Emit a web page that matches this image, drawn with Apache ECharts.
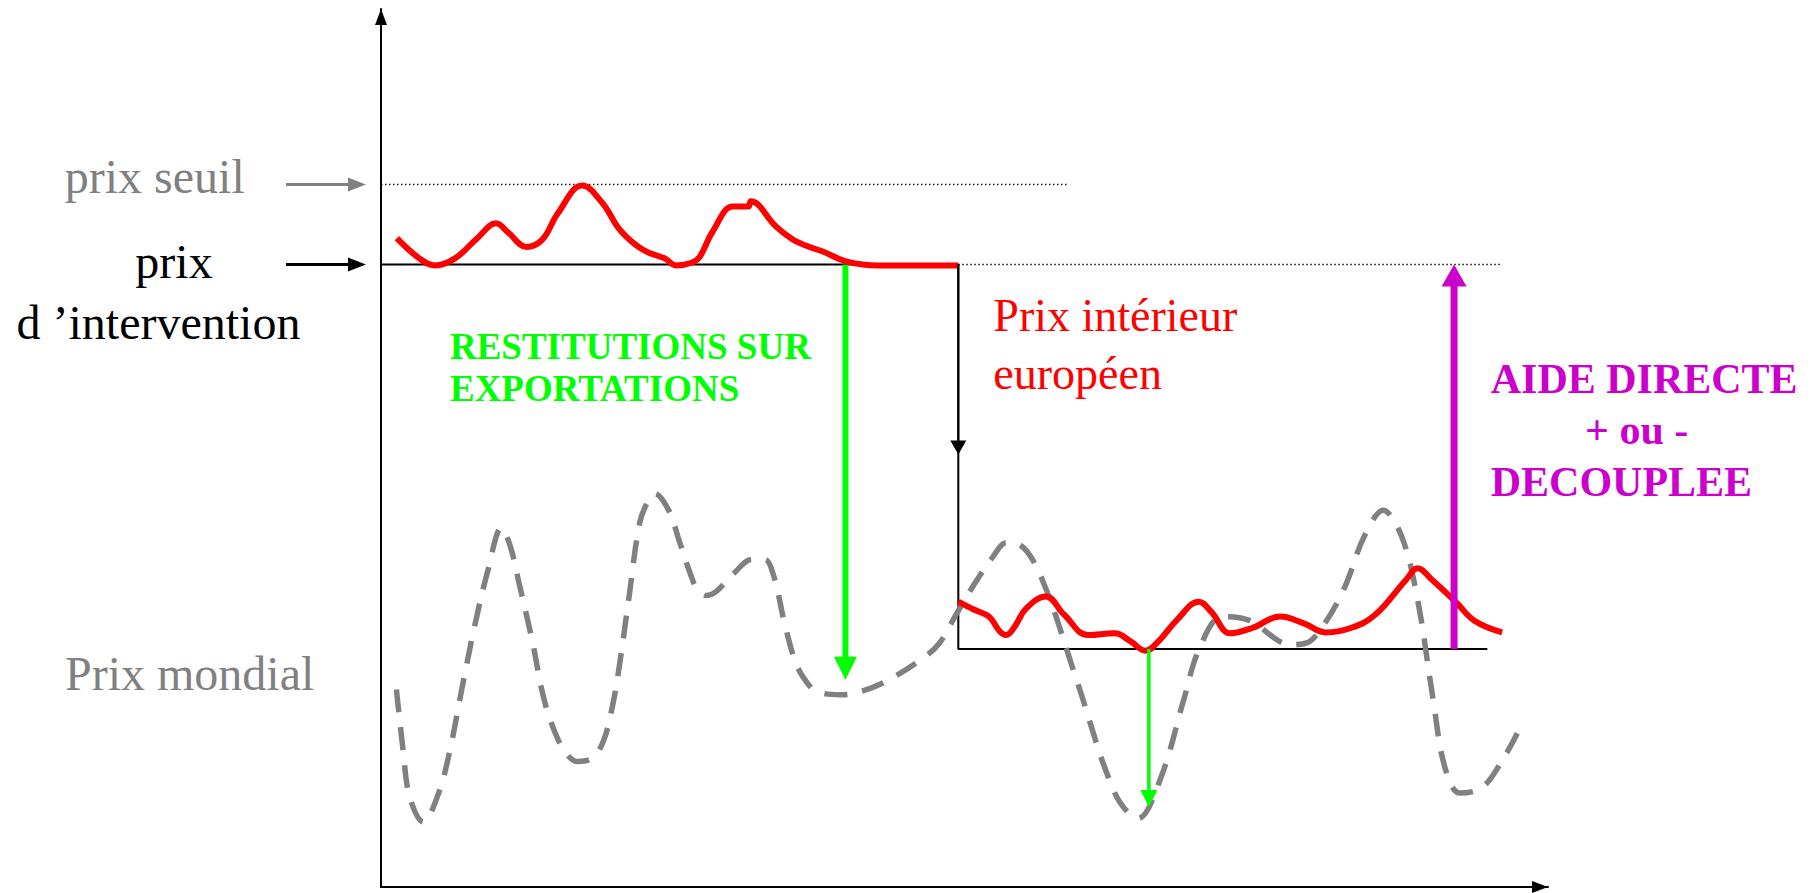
<!DOCTYPE html>
<html><head><meta charset="utf-8">
<script src="https://cdn.jsdelivr.net/npm/echarts@6/dist/echarts.min.js"></script>
<style>html,body{margin:0;padding:0;background:#fff}#c{width:1818px;height:893px}</style>
</head><body><div id="c"></div><script>
// ---------- données (échelle arbitraire 0-100) ----------
const prixSeuil = 80.0;
const prixIntervention = 70.9;
const prixPlancherApres = 27.1;
const xRupture = 49.47;
const xFinSeuil = 58.75;
const xFinIntervention = 95.9;
const xFinPlancher = 94.8;

// Prix intérieur européen, avant la réforme
const interieurAvantX = [1.36, 3.28, 4.61, 6.34, 8.25, 9.86, 10.93, 12.46, 13.8, 15.14, 17.25, 18.97, 20.5, 22.41, 24.31, 25.28, 26.62, 27.32, 28.4, 30.16, 31.47, 31.69, 33.88, 35.62, 37.8, 40.0, 42.62, 49.47];
const interieurAvantY = [73.9, 71.6, 70.8, 71.6, 73.9, 75.6, 74.5, 72.9, 73.7, 76.7, 79.9, 77.9, 74.8, 72.6, 71.6, 70.8, 71.1, 71.8, 74.6, 77.5, 77.5, 78.1, 75.2, 73.5, 72.4, 71.2, 70.8, 70.8];

// Prix intérieur européen, après la réforme
const interieurApresX = [49.47, 50.79, 52.09, 53.03, 53.58, 54.27, 55.27, 56.96, 58.55, 60.58, 62.89, 64.21, 65.5, 66.7, 68.19, 70.08, 71.17, 72.76, 74.65, 77.04, 79.12, 80.95, 83.1, 85.19, 87.84, 88.83, 90.06, 92.14, 93.73, 96.07];
const interieurApresY = [32.5, 31.6, 30.8, 29.1, 28.7, 29.6, 31.7, 33.1, 31.0, 28.7, 28.9, 28.0, 26.9, 28.1, 30.4, 32.5, 31.3, 28.9, 29.5, 30.8, 30.0, 29.0, 29.5, 31.0, 35.0, 36.3, 35.0, 32.4, 30.3, 29.0];

// Prix mondial
const mondialX = [1.32, 1.89, 2.45, 3.62, 4.94, 5.91, 6.86, 8.02, 9.17, 10.32, 11.08, 11.83, 13.0, 13.77, 14.51, 15.67, 16.83, 18.14, 19.11, 19.88, 20.46, 21.22, 22.17, 22.94, 23.46, 24.65, 25.61, 26.58, 27.14, 27.91, 28.68, 30.22, 31.77, 32.9, 33.66, 34.59, 35.55, 36.54, 37.47, 39.4, 40.95, 43.24, 46.27, 47.81, 49.35, 50.89, 52.43, 53.58, 54.71, 56.66, 59.6, 62.89, 64.87, 66.84, 68.78, 70.08, 72.07, 74.35, 77.98, 79.32, 80.91, 82.6, 84.24, 85.88, 87.47, 88.83, 90.16, 91.15, 92.44, 94.43, 96.42, 97.37];
const mondialY = [22.5, 15.6, 10.3, 7.4, 10.7, 15.6, 22.1, 29.7, 36.1, 40.9, 38.8, 34.6, 27.8, 22.5, 19.0, 15.6, 14.3, 14.7, 16.8, 20.9, 25.5, 32.7, 41.5, 44.1, 44.8, 42.9, 39.2, 35.4, 33.8, 33.2, 33.6, 35.7, 37.3, 37.3, 35.4, 30.0, 25.5, 23.2, 22.2, 21.9, 22.2, 23.4, 25.9, 27.7, 31.2, 34.6, 37.6, 39.2, 39.0, 35.0, 23.6, 10.7, 7.8, 12.5, 21.3, 27.0, 30.8, 30.4, 27.6, 27.8, 30.1, 34.2, 39.9, 42.9, 39.9, 32.7, 21.3, 13.7, 10.7, 11.4, 15.2, 17.5];

// Flèches [x0, y0, x1, y1]
const restitutionAvant = [39.8, 70.9, 39.8, 23.6];
const restitutionApres = [65.8, 27.1, 65.8, 9.1];
const aideDirecte = [91.95, 27.1, 91.95, 70.9];
const baissePrix = [49.47, 70.9, 49.47, 49.26];
const repereSeuil = [-8.14, 80.0, -1.29, 80.0];
const repereIntervention = [-8.14, 70.9, -1.29, 70.9];

// Textes
const texteLignes = ['prix seuil', 'prix', 'd \u2019intervention', 'Prix mondial',
  'RESTITUTIONS SUR', 'EXPORTATIONS', 'Prix int\u00e9rieur', 'europ\u00e9en',
  'AIDE DIRECTE', '+ ou -', 'DECOUPLEE'];

// ---------- mise en page / styles ----------
const SERIF = "'Liberation Serif', 'Times New Roman', serif";
const textLayout = [
  {x: -27.1, y: 80.95, align: 'left', color: '#808080', size: 48, weight: 'normal'},
  {x: -17.74, y: 71.25, align: 'center', color: '#000000', size: 48, weight: 'normal'},
  {x: -19.07, y: 64.3, align: 'center', color: '#000000', size: 48, weight: 'normal'},
  {x: -27.08, y: 24.3, align: 'left', color: '#808080', size: 48, weight: 'normal'},
  {x: 5.91, y: 61.55, align: 'left', color: '#00ff00', size: 37, weight: 'bold'},
  {x: 5.91, y: 56.8, align: 'left', color: '#00ff00', size: 37, weight: 'bold'},
  {x: 52.47, y: 65.1, align: 'left', color: '#ff0000', size: 46, weight: 'normal'},
  {x: 52.47, y: 58.45, align: 'left', color: '#ff0000', size: 46, weight: 'normal'},
  {x: 95.09, y: 57.9, align: 'left', color: '#cc00cc', size: 42, weight: 'bold'},
  {x: 107.6, y: 52.0, align: 'center', color: '#cc00cc', size: 42, weight: 'bold'},
  {x: 95.09, y: 46.1, align: 'left', color: '#cc00cc', size: 42, weight: 'bold'}
];

const arrows = [restitutionAvant, restitutionApres, aideDirecte, baissePrix, repereSeuil, repereIntervention];
const arrowStyles = [
  {color: '#00ff00', shaft: 6, headW: 23, headL: 23},
  {color: '#00ff00', shaft: 3.5, headW: 17, headL: 17},
  {color: '#cc00cc', shaft: 7, headW: 25, headL: 22},
  {color: '#000000', shaft: 2, headW: 16, headL: 14},
  {color: '#808080', shaft: 3, headW: 14, headL: 18},
  {color: '#000000', shaft: 3, headW: 14, headL: 18}
];

const zip = (xs, ys) => xs.map((x, i) => [x, ys[i]]);

function renderArrow(params, api) {
  const s = arrowStyles[params.dataIndex];
  const p0 = api.coord([api.value(0), api.value(1)]);
  const p1 = api.coord([api.value(2), api.value(3)]);
  const dx = p1[0] - p0[0], dy = p1[1] - p0[1];
  const len = Math.hypot(dx, dy);
  const ux = dx / len, uy = dy / len;
  const bx = p1[0] - ux * s.headL, by = p1[1] - uy * s.headL;
  return {
    type: 'group',
    children: [
      {type: 'line', shape: {x1: p0[0], y1: p0[1], x2: bx + ux * 2, y2: by + uy * 2},
        style: {stroke: s.color, lineWidth: s.shaft, lineCap: 'butt'}},
      {type: 'polygon', shape: {points: [[p1[0], p1[1]],
        [bx - uy * s.headW / 2, by + ux * s.headW / 2],
        [bx + uy * s.headW / 2, by - ux * s.headW / 2]]},
        style: {fill: s.color}}
    ]
  };
}

function renderText(params, api) {
  const l = textLayout[params.dataIndex];
  const p = api.coord([api.value(0), api.value(1)]);
  return {
    type: 'text', x: p[0], y: p[1],
    style: {
      text: texteLignes[params.dataIndex], fill: l.color,
      fontFamily: SERIF, fontSize: l.size, fontWeight: l.weight,
      align: l.align, verticalAlign: 'middle'
    }
  };
}

const chart = echarts.init(document.getElementById('c'), null, {renderer: 'svg'});
const axisLineBase = {show: true, lineStyle: {color: '#000', width: 2},
  symbol: ['none', 'triangle'], symbolSize: [12, 16], symbolOffset: [0, -8]};
const dotted = {color: '#111', width: 1.5, type: [1.5, 2.5]};

chart.setOption({
  animation: false,
  backgroundColor: '#ffffff',
  grid: {left: 381, right: 270, top: 9, bottom: 6},
  xAxis: {type: 'value', min: 0, max: 100, axisLine: axisLineBase,
    axisTick: {show: false}, axisLabel: {show: false}, splitLine: {show: false}},
  yAxis: {type: 'value', min: 0, max: 100, axisLine: axisLineBase,
    axisTick: {show: false}, axisLabel: {show: false}, splitLine: {show: false}},
  series: [
    {type: 'line', name: 'seuil', symbol: 'none', z: 1,
      data: [[0, prixSeuil], [xFinSeuil, prixSeuil]], lineStyle: dotted},
    {type: 'line', name: 'intervention prolongée', symbol: 'none', z: 1,
      data: [[xRupture, prixIntervention], [xFinIntervention, prixIntervention]], lineStyle: dotted},
    {type: 'line', name: 'plancher', symbol: 'none', z: 2,
      data: [[0, prixIntervention], [xRupture, prixIntervention], [xRupture, prixPlancherApres], [xFinPlancher, prixPlancherApres]],
      lineStyle: {color: '#000', width: 2}},
    {type: 'line', name: 'Prix mondial', symbol: 'none', smooth: 0.35, z: 3,
      data: zip(mondialX, mondialY),
      lineStyle: {color: '#808080', width: 5.5, type: [23, 15], cap: 'butt'}},
    {type: 'custom', name: 'flèche restitution', renderItem: renderArrow, clip: false, z: 4,
      data: [{value: restitutionAvant}]},
    {type: 'line', name: 'Prix intérieur avant', symbol: 'none', smooth: 0.4, z: 5,
      data: zip(interieurAvantX, interieurAvantY),
      lineStyle: {color: '#ff0000', width: 6}},
    {type: 'line', name: 'Prix intérieur après', symbol: 'none', smooth: 0.4, z: 5,
      data: zip(interieurApresX, interieurApresY),
      lineStyle: {color: '#ff0000', width: 6}},
    {type: 'custom', name: 'flèches', clip: false, z: 6,
      renderItem: function (params, api) {
        return renderArrow({dataIndex: params.dataIndex + 1}, api);
      },
      data: arrows.slice(1).map(a => ({value: a}))},
    {type: 'custom', name: 'textes', clip: false, z: 7, renderItem: renderText,
      data: textLayout.map(l => [l.x, l.y])}
  ]
});
</script></body></html>
